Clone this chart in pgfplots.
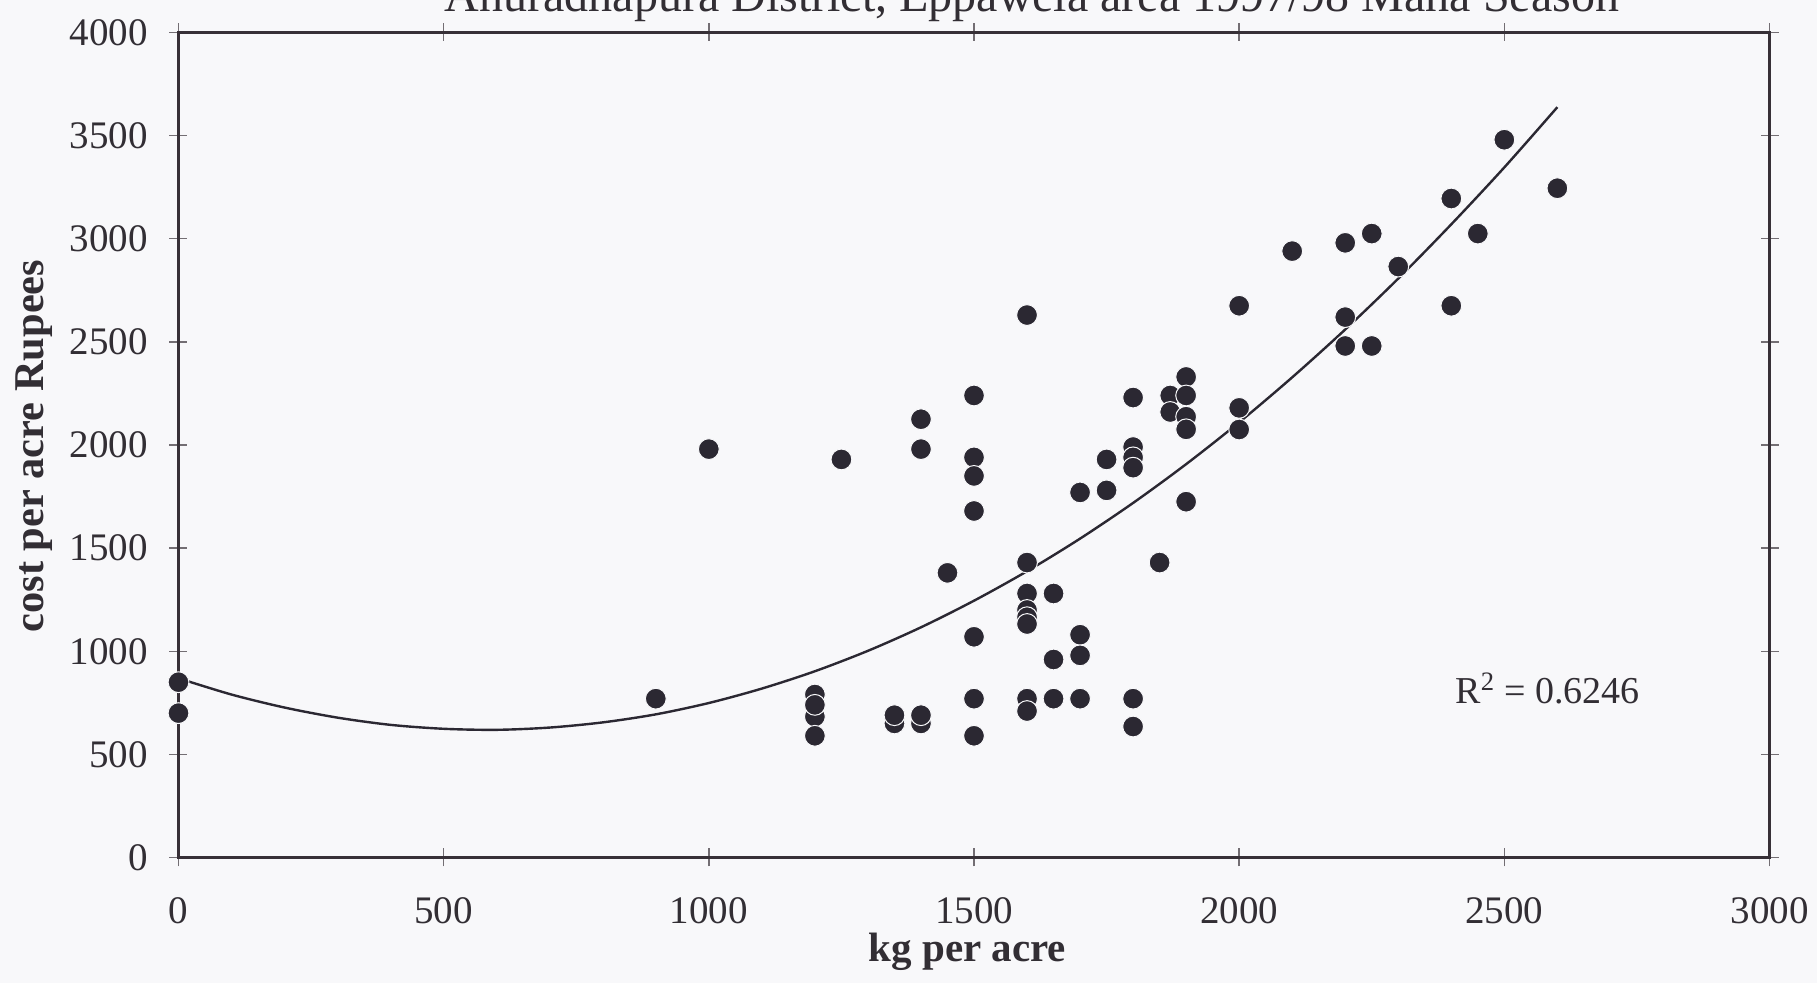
\documentclass[border=0pt]{standalone}
\usepackage{fontspec}
\setmainfont{Liberation Serif}
\usepackage{pgfplots}
\pgfplotsset{compat=1.18}
\definecolor{bgcol}{RGB}{248,248,250}
\definecolor{dotcol}{RGB}{43,40,50}
\definecolor{axiscol}{RGB}{55,48,55}
\definecolor{txtcol}{RGB}{50,46,52}
\begin{document}
\begin{tikzpicture}
\fill[bgcol] (-89.25pt,-62.75pt) rectangle (819.25pt,428.75pt);
\begin{scope}
\clip (-89.25pt,-62.75pt) rectangle (819.25pt,428.75pt);
\node[anchor=base, inner sep=0pt, text=txtcol, font=\fontsize{24}{26}\selectfont] at (426.75pt,422.75pt) {Anuradhapura District, Eppawela area 1997/98 Maha Season};
\end{scope}
\begin{axis}[
  scale only axis, width=795.5pt, height=412.5pt,
  xmin=0, xmax=3000, ymin=0, ymax=4000,
  xtick={0,500,...,3000}, ytick={0,500,...,4000},
  tick align=center, major tick length=9pt,
  axis line style={line width=1.2pt, color=axiscol},
  tick style={line width=0.7pt, color=axiscol!70},
  /pgf/number format/assume math mode=true,
  /pgf/number format/set thousands separator={},
  scaled ticks=false,
  ticklabel style={font=\fontsize{19.5}{21}\selectfont, text=txtcol},
  xticklabel style={anchor=north, inner sep=0pt, yshift=-15.25pt},
  yticklabel style={anchor=east, inner sep=0pt, xshift=-10.75pt},
  clip=false,
]
\addplot[only marks, mark=*, mark size=5.2pt,
  mark options={fill=dotcol, draw=bgcol, line width=0.5pt}]
coordinates {
(0,850) (0,700)
(900,770)
(1000,1980)
(1200,790) (1200,683) (1200,740) (1200,590)
(1250,1930)
(1350,650) (1350,690)
(1400,2125) (1400,1980) (1400,650) (1400,690)
(1450,1380)
(1500,2240) (1500,1940) (1500,1850) (1500,1680) (1500,1070) (1500,770) (1500,590)
(1600,2630) (1600,1430) (1600,1280) (1600,1200) (1600,1165) (1600,1132) (1600,770) (1600,710)
(1650,1280) (1650,960) (1650,770)
(1700,1770) (1700,1080) (1700,980) (1700,770)
(1750,1930) (1750,1780)
(1800,2230) (1800,1990) (1800,1940) (1800,1890) (1800,770) (1800,635)
(1850,1430)
(1870,2240) (1870,2160)
(1900,2330) (1900,2240) (1900,2137) (1900,2076) (1900,1725)
(2000,2675) (2000,2180) (2000,2075)
(2100,2940)
(2200,2980) (2200,2620) (2200,2480)
(2250,3025) (2250,2480)
(2300,2865)
(2400,3195) (2400,2675)
(2450,3025)
(2500,3480)
(2600,3245)
};
\addplot[smooth, line width=1.2pt, color=dotcol] coordinates {
(0,869) (100,790) (200,727) (300,678) (400,643) (500,624) (600,619)
(700,630) (800,655) (900,694) (1000,749) (1100,819) (1200,903)
(1300,1002) (1400,1116) (1500,1245) (1600,1388) (1700,1546)
(1800,1719) (1900,1907) (2000,2110) (2100,2328) (2200,2560)
(2300,2807) (2400,3070) (2500,3346) (2600,3638)
};
\node[anchor=base west, inner sep=0pt, text=txtcol, font=\fontsize{19}{21}\selectfont]
  at (axis cs:2407,749) {R\textsuperscript{2} = 0.6246};
\end{axis}
\node[anchor=base, inner sep=0pt, text=txtcol, font=\bfseries\fontsize{20.5}{22}\selectfont] at (394.5pt,-52.25pt) {kg per acre};
\node[anchor=base, rotate=90, inner sep=0pt, text=txtcol, font=\bfseries\fontsize{21.2}{23}\selectfont] at (-67.25pt,205.75pt) {cost per acre Rupees};
\pgfresetboundingbox
\useasboundingbox (-89.25pt,-62.75pt) rectangle (819.25pt,428.75pt);
\end{tikzpicture}
\end{document}
